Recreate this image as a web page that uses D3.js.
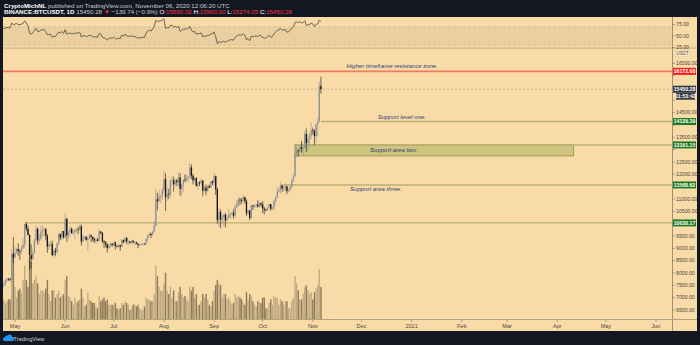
<!DOCTYPE html>
<html><head><meta charset="utf-8">
<script src="https://cdn.jsdelivr.net/npm/d3@7"></script>
<style>body{margin:0;background:#131722;}svg{display:block;}</style>
</head><body>
<svg id="c" width="700" height="345"></svg>
<script>
// ---------------- DATA ----------------
const startDate = "2020-04-23";
const firstOpen = 7127;
const closes = [
 7500,7538,7693,7774,7759,7738,8778,8620,
 8826,8972,8894,8871,9021,9143,9986,9800,9539,8722,8562,8810,9310,9791,9316,9381,9680,9733,9775,9511,9068,9171,9179,8720,8900,8841,9204,9575,9427,9697,9448,
 10200,9518,9666,9789,9621,9666,9746,9782,9772,9885,9280,9465,9474,9342,9426,9526,9465,9386,9310,9358,9294,9685,9624,9296,9249,9162,9012,9116,9192,9138,
 9232,9087,9058,9135,9070,9342,9253,9428,9277,9278,9234,9303,9243,9243,9188,9132,9151,9159,9185,9165,9375,9527,9581,9536,9677,9905,10990,10912,11100,11111,11351,
 11802,11071,11219,11191,11744,11762,11595,11754,11675,11878,11410,11584,11780,11769,11865,11911,12281,11945,11754,11853,11531,11663,11648,11749,11329,11461,11330,11527,11465,11711,11650,
 11924,11389,10141,10468,10169,10255,10369,10131,10242,10364,10400,10443,10323,10681,10792,10975,10949,10933,11079,10920,10418,10536,10226,10737,10693,10730,10775,10696,10840,10777,
 10620,10570,10542,10666,10792,10599,10666,10924,11051,11294,11376,11542,11425,11430,11505,11319,11360,11503,11745,11913,12823,12965,12931,13108,13032,13068,13636,13266,13456,13560,13791,
 13761,13550,14025,14146,15590.02,15450.28
];
const highs = [
 7773,7620,7738,7795,7795,7793,8950,9460,
 9059,9011,9200,8956,9118,9395,9990,10067,9917,9574,9168,8978,9398,9938,9845,9588,9888,9950,9842,9842,9578,9270,9310,9307,8979,9016,9225,9625,9605,9740,9700,
 10428,10228,9690,9881,9854,9735,9802,9800,9877,9992,9964,9557,9494,9480,9495,9589,9565,9474,9440,9400,9417,9780,9686,9659,9318,9294,9196,9191,9238,9200,
 9292,9274,9125,9183,9137,9375,9350,9470,9440,9320,9298,9343,9344,9280,9275,9217,9189,9200,9224,9200,9420,9545,9650,9640,9730,10111,11394,11244,11342,11170,11450,
 12123,12034,11473,11414,11786,11915,11900,11808,11815,12070,12050,11622,11800,12000,11980,11930,12468,12400,12020,11885,11880,11689,11718,11824,11769,11531,11590,11542,11580,11720,11755,
 12086,11950,11458,10630,10570,10350,10410,10437,10350,10580,10428,10480,10580,10800,10945,11100,11045,11038,11180,11080,10988,10580,10550,10780,10760,10800,10800,10950,10870,10850,
 10920,10675,10597,10688,10800,10795,10680,10960,11100,11491,11440,11720,11557,11548,11631,11540,11400,11525,11823,12030,13217,13200,13028,13160,13350,13250,13789,13859,13632,13681,14100,
 13895,13828,14066,14259,15750,15960
];
const lows = [
 7080,7420,7480,7630,7680,7660,7719,8400,
 8620,8760,8700,8531,8760,8940,9011,9700,9520,8117,8200,8528,8805,9256,9150,9220,9330,9464,9474,9326,8815,8940,9070,8700,8632,8700,8811,9110,9330,9331,9381,
 9417,9266,9365,9450,9581,9531,9372,9633,9570,9704,9113,9232,9373,9307,8900,9373,9255,9281,9215,9185,9277,9283,9570,9205,9005,9040,8833,8947,9024,9064,
 9091,8940,9037,9040,8893,9050,9201,9236,9160,9120,9188,9157,9200,9115,9160,9000,9088,9120,9110,9137,9150,9280,9460,9420,9520,9640,9875,10540,10860,10824,10960,
 11220,10518,10936,11000,11093,11562,11300,11530,11520,11515,11130,11140,11276,11685,11675,11694,11800,11805,11580,11680,11500,11376,11522,11583,11117,11260,11152,11290,11430,11460,11570,
 11520,11163,10000,9875,9813,10010,9880,9850,10100,10190,10200,10260,10200,10250,10630,10670,10745,10812,10890,10800,10300,10350,10140,10200,10550,10630,10640,10650,10640,10670,
 10431,10374,10500,10520,10620,10520,10560,10531,10825,11043,11250,11210,11300,11280,11266,11200,11260,11330,11410,11680,11900,12676,12720,12900,12880,12771,13050,12905,12970,13128,13421,
 13600,13195,13290,13525,14100,15274.05
];
// volume, thousands of BTC
const volumes = [
 80,55,45,50,55,55,160,180,
 90,60,80,85,75,110,150,110,90,170,160,100,110,120,100,70,80,80,75,85,110,70,50,80,80,60,70,80,60,65,70,
 110,120,65,60,50,40,60,45,50,55,85,60,35,40,75,55,50,45,45,35,30,65,50,55,60,50,55,40,40,40,
 40,45,30,25,30,45,40,50,45,40,25,30,40,40,35,40,30,25,25,35,60,55,55,50,50,70,150,120,90,80,80,
 100,130,80,70,90,60,80,50,50,75,90,70,60,65,55,50,90,80,90,60,70,40,40,50,70,60,70,55,40,35,50,
 80,95,110,100,95,60,70,70,55,60,50,40,45,70,60,65,60,55,45,40,75,55,70,65,50,40,35,50,45,45,
 60,60,30,30,45,55,40,65,60,60,40,55,50,40,50,50,30,30,50,60,120,100,80,55,55,70,90,95,80,70,75,
 55,75,85,95,140,90
];
// closes 16 Mar - 22 Apr 2020, used only to warm up the RSI(14)
const warmupCloses = [
 5014,5225,5238,6191,6198,6185,5830,6469,6744,6677,6735,6360,6237,5882,6395,6410,
 6640,6793,6733,6868,6776,7330,7190,7360,7290,6865,6887,6903,6838,6869,6621,7116,7097,7257,7121,6827,6842,7125
];
const monthTicks = ["2020-05-01","2020-06-01","2020-07-01","2020-08-01","2020-09-01","2020-10-01","2020-11-01","2020-12-01","2021-01-01","2021-02-01","2021-03-01","2021-04-01","2021-05-01","2021-06-01"];
const monthLabels = ["May","Jun","Jul","Aug","Sep","Oct","Nov","Dec","2021","Feb","Mar","Apr","May","Jun"];
const priceTicks = [6500,7000,7500,8000,8500,9000,9500,10000,10500,11000,11500,12000,12500,13000,13500,14000,14500,15000,15500,16000,16500];
const rsiTicks = [75,50,25];
const rsiBand = [30,70];
// horizontal levels
const levelPrices = [10030.17, 11568.62, 13191.15, 14139.39];
const levelStarts = ["2020-05-07","2020-10-12","2020-10-21","2020-11-06"];
const levelTexts = [null, "Support area three.", null, "Support level one."];
const levelTextDates = [null, "2020-12-10", null, "2020-12-26"];
const resistancePrice = 16172.68;
const resistanceText = "Higher timeframe resistance zone.";
const resistanceTextDate = "2020-12-20";
const zoneTop = 13191.15, zoneBottom = 12745;
const zoneStart = "2020-10-21", zoneEnd = "2021-04-11";
const zoneText = "Support area two.", zoneTextDate = "2020-12-21";
const lastPrice = 15450.28, countdown = "11:53:42";

// ---------------- LAYOUT ----------------
const W = 700, H = 345;
const PL = 3, PR = 697, PT = 17, PB = 331, AX = 672, TAX = 319;
const BG = "#f9dba8";
const svg = d3.select("#c");
svg.append("rect").attr("width", W).attr("height", H).attr("fill", "#131722");
svg.append("rect").attr("x", PL).attr("y", PT).attr("width", PR - PL).attr("height", PB - PT).attr("fill", BG);

const parse = s => new Date(s + "T00:00:00Z");
const x = d3.scaleUtc().domain([parse("2020-05-01"), parse("2021-06-01")]).range([15, 656]);
const y = d3.scaleLinear().domain([6135, 17039]).range([TAX, 50]);
const yR = d3.scaleLinear().domain([23.9, 91.3]).range([48, 17]);
const yV = d3.scaleLinear().domain([0, 160]).range([TAX, 262]);

const start = parse(startDate);
const data = closes.map((c, i) => ({
  date: d3.utcDay.offset(start, i),
  o: i === 0 ? firstOpen : closes[i - 1],
  h: highs[i], l: lows[i], c: c, v: volumes[i]
}));

// RSI(14), Wilder smoothing of the closes
const all = warmupCloses.concat(closes);
const rsiAll = [];
let ag = 0, al = 0;
for (let i = 1; i < all.length; i++) {
  const ch = all[i] - all[i - 1];
  const g = Math.max(ch, 0), l = Math.max(-ch, 0);
  if (i <= 14) { ag += g / 14; al += l / 14; }
  else { ag = (ag * 13 + g) / 14; al = (al * 13 + l) / 14; }
  rsiAll[i] = i >= 14 ? 100 - 100 / (1 + ag / al) : null;
}
const rsi = rsiAll.slice(warmupCloses.length);

const defs = svg.append("defs");
defs.append("clipPath").attr("id", "plot").append("rect").attr("x", PL).attr("y", 50).attr("width", AX - PL).attr("height", TAX - 50);
defs.append("clipPath").attr("id", "rsiclip").append("rect").attr("x", PL).attr("y", PT).attr("width", AX - PL).attr("height", 31);

// ---------------- RSI PANE ----------------
const gR = svg.append("g").attr("clip-path", "url(#rsiclip)");
gR.append("rect").attr("x", PL).attr("width", AX - PL)
  .attr("y", yR(rsiBand[1])).attr("height", yR(rsiBand[0]) - yR(rsiBand[1])).attr("fill", "#eccf9e");
rsiBand.forEach(v => gR.append("line").attr("x1", PL).attr("x2", AX).attr("y1", yR(v)).attr("y2", yR(v))
  .attr("stroke", "#c8b595").attr("stroke-width", 0.7).attr("stroke-dasharray", "3,2"));
gR.append("path").datum(data.map((d, i) => [d.date, rsi[i]]))
  .attr("d", d3.line().x(d => x(d[0])).y(d => yR(d[1])))
  .attr("fill", "none").attr("stroke", "#5b574e").attr("stroke-width", 0.9);
svg.append("rect").attr("x", PL).attr("y", 47.3).attr("width", PR - PL).attr("height", 1.6).attr("fill", "#d8bd8e");

// ---------------- MAIN PANE ----------------
const gM = svg.append("g").attr("clip-path", "url(#plot)");
gM.selectAll(".vol").data(data).enter().append("rect")
  .attr("x", d => x(d.date) - 0.7).attr("width", 1.4)
  .attr("y", d => yV(d.v)).attr("height", d => TAX - yV(d.v))
  .attr("fill", d => d.c >= d.o ? "#c1aa83" : "#8d7a58");

gM.append("line").attr("x1", PL).attr("x2", AX).attr("y1", y(lastPrice)).attr("y2", y(lastPrice))
  .attr("stroke", "#b9a88e").attr("stroke-width", 0.8).attr("stroke-dasharray", "2,2");
gM.append("line").attr("x1", PL).attr("x2", AX).attr("y1", y(resistancePrice)).attr("y2", y(resistancePrice))
  .attr("stroke", "#eb7d5e").attr("stroke-width", 1.8);
gM.append("rect").attr("x", x(parse(zoneStart))).attr("width", x(parse(zoneEnd)) - x(parse(zoneStart)))
  .attr("y", y(zoneTop)).attr("height", y(zoneBottom) - y(zoneTop))
  .attr("fill", "#cdc47e").attr("stroke", "#8d8842").attr("stroke-width", 0.7);
levelPrices.forEach((p, i) => {
  gM.append("line").attr("x1", x(parse(levelStarts[i]))).attr("x2", AX).attr("y1", y(p)).attr("y2", y(p))
    .attr("stroke", "#bcae73").attr("stroke-width", 1.4);
});

const cg = gM.selectAll(".c").data(data).enter().append("g");
cg.append("line").attr("x1", d => x(d.date)).attr("x2", d => x(d.date))
  .attr("y1", d => y(d.h)).attr("y2", d => y(d.l))
  .attr("stroke", d => d.c >= d.o ? "#8e9097" : "#151515").attr("stroke-width", 0.6);
cg.append("rect").attr("x", d => x(d.date) - 0.65).attr("width", 1.3)
  .attr("y", d => y(Math.max(d.o, d.c))).attr("height", d => Math.max(0.7, Math.abs(y(d.o) - y(d.c))))
  .attr("fill", d => d.c >= d.o ? "#8e9097" : "#151515");

const note = (txt, dstr, yy) => svg.append("text").attr("x", x(parse(dstr))).attr("y", yy)
  .attr("text-anchor", "middle").attr("font-family", "Liberation Sans, Arial, sans-serif")
  .attr("font-style", "italic").attr("font-size", 6).attr("fill", "#2f3f78").text(txt);
note(resistanceText, resistanceTextDate, y(resistancePrice) - 3);
note(levelTexts[3], levelTextDates[3], y(levelPrices[3]) - 2.5);
note(zoneText, zoneTextDate, (y(zoneTop) + y(zoneBottom)) / 2 + 2);
note(levelTexts[1], levelTextDates[1], y(levelPrices[1]) + 6.5);

// ---------------- AXES ----------------
svg.append("line").attr("x1", AX + 0.5).attr("x2", AX + 0.5).attr("y1", PT).attr("y2", PB).attr("stroke", "#9f9179").attr("stroke-width", 1);
svg.append("line").attr("x1", PL).attr("x2", PR).attr("y1", TAX + 0.5).attr("y2", TAX + 0.5).attr("stroke", "#b3a282").attr("stroke-width", 1.2);

const axFont = "Liberation Sans, Arial, sans-serif";
// tag positions on the price axis (tick labels hidden under them are skipped)
const tagYs = [y(resistancePrice), y(lastPrice), y(lastPrice) + 7].concat(levelPrices.map(p => y(p)));
const pAxis = svg.append("g");
priceTicks.forEach(p => {
  pAxis.append("line").attr("x1", AX).attr("x2", AX + 3).attr("y1", y(p)).attr("y2", y(p)).attr("stroke", "#7d7566").attr("stroke-width", 0.6);
  if (tagYs.some(t => Math.abs(t - y(p)) < 7.5)) return;
  pAxis.append("text").attr("x", AX + 4).attr("y", y(p) + 1.8).attr("font-family", axFont).attr("font-size", 5.2).attr("fill", "#4a4740").text(p.toFixed(2));
});
rsiTicks.forEach(r => {
  pAxis.append("line").attr("x1", AX).attr("x2", AX + 3).attr("y1", yR(r)).attr("y2", yR(r)).attr("stroke", "#7d7566").attr("stroke-width", 0.6);
  pAxis.append("text").attr("x", AX + 4).attr("y", yR(r) + 1.8).attr("font-family", axFont).attr("font-size", 5.2).attr("fill", "#4a4740").text(r.toFixed(2));
});
svg.append("rect").attr("x", AX + 3).attr("y", 50.5).attr("width", 15).attr("height", 6).attr("fill", "#fbe6c2").attr("stroke", "#d5c3a4").attr("stroke-width", 0.4);
svg.append("text").attr("x", AX + 10.5).attr("y", 55.2).attr("text-anchor", "middle").attr("font-family", axFont).attr("font-size", 4.6).attr("fill", "#555").text("USDT");

const tag = (yy, txt, fill, x0, w) => {
  svg.append("rect").attr("x", x0).attr("y", yy - 3.5).attr("width", w).attr("height", 7).attr("fill", fill);
  svg.append("text").attr("x", x0 + w / 2).attr("y", yy + 1.8).attr("text-anchor", "middle").attr("font-family", axFont)
    .attr("font-weight", "bold").attr("font-size", 5.2).attr("fill", "#ffffff").text(txt);
};
tag(y(resistancePrice), resistancePrice.toFixed(2), "#f21d1d", AX + 1, 23);
tag(y(lastPrice), lastPrice.toFixed(2), "#363a45", AX + 1, 23);
tag(y(lastPrice) + 7, countdown, "#363a45", AX + 4, 19);
levelPrices.forEach(p => tag(y(p), p.toFixed(2), "#1f7a22", AX + 1, 23));

monthTicks.forEach((m, i) => {
  const xx = x(parse(m));
  svg.append("line").attr("x1", xx).attr("x2", xx).attr("y1", TAX + 1).attr("y2", TAX + 3).attr("stroke", "#7d7566").attr("stroke-width", 0.6);
  svg.append("text").attr("x", xx).attr("y", 328).attr("text-anchor", "middle").attr("font-family", axFont)
    .attr("font-size", 5.5).attr("fill", "#4a4740").text(monthLabels[i]);
});

// ---------------- HEADER ----------------
const hdr = svg.append("text").attr("x", 4).attr("y", 7.5).attr("font-family", axFont).attr("font-size", 6.2).attr("fill", "#c9ccd4");
hdr.append("tspan").attr("font-weight", "bold").attr("fill", "#ffffff").text("CryptoMichNL");
hdr.append("tspan").text(" published on TradingView.com, November 06, 2020 12:06:20 UTC");
const h2 = svg.append("text").attr("x", 4).attr("y", 14).attr("font-family", axFont).attr("font-size", 6.2).attr("fill", "#c9ccd4");
h2.append("tspan").attr("font-weight", "bold").attr("fill", "#ffffff").text("BINANCE:BTCUSDT, 1D");
h2.append("tspan").text(" 15450.28 ");
h2.append("tspan").attr("fill", "#f23645").text("▼");
h2.append("tspan").text(" −139.74 (−0.9%) ");
[["O:", "15590.02"], ["H:", "15960.00"], ["L:", "15274.05"], ["C:", "15450.28"]].forEach(([k, v], i) => {
  h2.append("tspan").attr("fill", "#ffffff").text((i ? " " : "") + k);
  h2.append("tspan").attr("fill", "#f23645").text(v);
});

// ---------------- FOOTER ----------------
svg.append("path").attr("d", "M4.5,341 h7.5 a2,2 0 0 0 0.3,-4 a2.6,2.6 0 0 0 -4.6,-1.4 a1.8,1.8 0 0 0 -2.6,1.6 a1.9,1.9 0 0 0 -0.6,3.8 z")
  .attr("fill", "#2196f3");
svg.append("text").attr("x", 13.5).attr("y", 340.5).attr("font-family", axFont).attr("font-size", 5.6).attr("fill", "#d1d4dc").text("TradingView");
</script>
</body></html>
